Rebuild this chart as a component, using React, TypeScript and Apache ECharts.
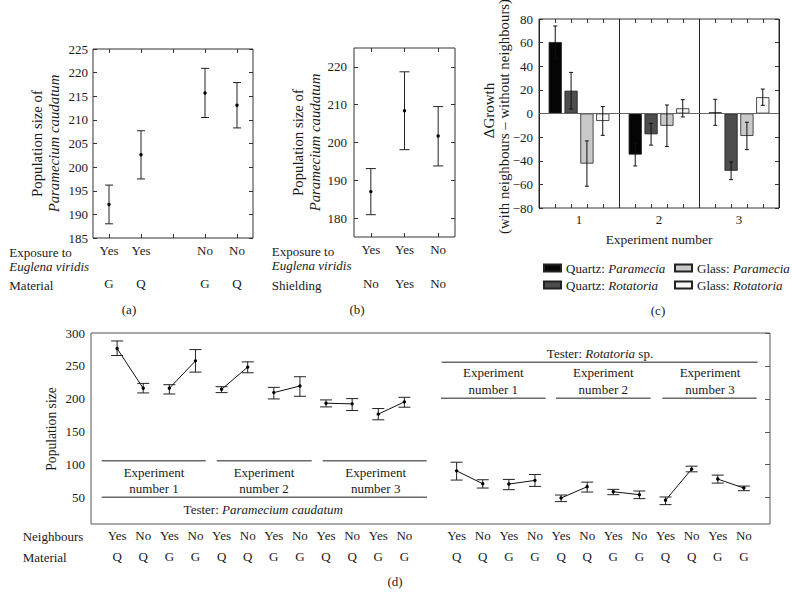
import React, { useEffect, useRef } from "react";
import * as echarts from "echarts";

const FONT = "Liberation Serif, DejaVu Serif, serif";
const INK = "#1a1a1a";
const BOX = "#333";

// ---------- Panel (a) ----------
const aExposure = ["Yes", "Yes", "", "No", "No"];
const aMaterial = ["G", "Q", "", "G", "Q"];
const aSlots = [0, 1, 3, 4];
const aMean = [192.1, 202.6, 215.7, 213.1];
const aLow = [188.0, 197.5, 210.5, 208.3];
const aHigh = [196.2, 207.7, 220.9, 217.9];

// ---------- Panel (b) ----------
const bExposure = ["Yes", "Yes", "No"];
const bShielding = ["No", "Yes", "No"];
const bMean = [187.0, 208.4, 201.7];
const bLow = [180.9, 198.1, 193.8];
const bHigh = [193.1, 218.7, 209.5];
const bTicks = [180, 190, 200, 210, 220];

// ---------- Panel (c) ----------
const cGroups = ["1", "2", "3"];
const cNames = ["Quartz: Paramecia", "Quartz: Rotatoria", "Glass: Paramecia", "Glass: Rotatoria"];
const cQuartzParamecia = [60.5, -34.8, 1.0];
const cQuartzRotatoria = [19.3, -17.6, -48.5];
const cGlassParamecia = [-42.4, -10.4, -19.0];
const cGlassRotatoria = [-6.3, 4.4, 13.8];
const cErrQuartzParamecia = [13.6, 9.6, 11.0];
const cErrQuartzRotatoria = [15.5, 9.2, 7.5];
const cErrGlassParamecia = [19.2, 17.6, 11.6];
const cErrGlassRotatoria = [12.2, 7.3, 6.9];
const cColors = ["#050505", "#4d4d4d", "#c9c9c9", "#f7f7f7"];

// ---------- Panel (d) ----------
const dPositions = [0, 1, 2, 3, 4, 5, 6, 7, 8, 9, 10, 11, 13, 14, 15, 16, 17, 18, 19, 20, 21, 22, 23, 24];
const dNeighbours = ["Yes", "No", "Yes", "No", "Yes", "No", "Yes", "No", "Yes", "No", "Yes", "No",
  "Yes", "No", "Yes", "No", "Yes", "No", "Yes", "No", "Yes", "No", "Yes", "No"];
const dMaterial = ["Q", "Q", "G", "G", "Q", "Q", "G", "G", "Q", "Q", "G", "G",
  "Q", "Q", "G", "G", "Q", "Q", "G", "G", "Q", "Q", "G", "G"];
const dMean = [276.4, 216.0, 216.0, 257.7, 214.5, 248.2, 209.5, 219.5, 193.4, 192.4, 176.8, 195.4,
  90.7, 71.1, 70.6, 76.2, 49.5, 66.6, 59.0, 54.5, 46.0, 93.3, 78.2, 64.6];
const dLow = [265.8, 209.0, 207.4, 240.6, 209.5, 239.6, 199.9, 203.9, 187.8, 182.3, 168.2, 187.3,
  76.7, 64.6, 62.1, 67.1, 44.0, 58.5, 54.5, 48.5, 39.4, 89.2, 72.1, 60.6];
const dHigh = [287.9, 223.5, 221.5, 274.8, 218.5, 256.2, 217.5, 233.6, 198.4, 200.4, 185.3, 202.4,
  103.8, 77.2, 77.7, 85.2, 54.0, 73.6, 62.6, 60.1, 51.0, 97.8, 84.2, 67.6];
const dYTicks = [50, 100, 150, 200, 250, 300];

const labelStyle = { fontFamily: FONT, fontSize: 13, color: INK };

function errorBar(capHalf: number, dot: boolean) {
  return (params: any, api: any) => {
    const x = api.value(0);
    const m = api.value(1);
    const lo = api.value(2);
    const hi = api.value(3);
    const pl = api.coord([x, lo]);
    const ph = api.coord([x, hi]);
    const pm = api.coord([x, m]);
    const st = { stroke: "#222", lineWidth: 1 };
    const children: any[] = [
      { type: "line", shape: { x1: pl[0], y1: pl[1], x2: ph[0], y2: ph[1] }, style: st },
      { type: "line", shape: { x1: pl[0] - capHalf, y1: pl[1], x2: pl[0] + capHalf, y2: pl[1] }, style: st },
      { type: "line", shape: { x1: ph[0] - capHalf, y1: ph[1], x2: ph[0] + capHalf, y2: ph[1] }, style: st },
    ];
    if (dot) children.push({ type: "circle", shape: { cx: pm[0], cy: pm[1], r: 1.7 }, style: { fill: "#000" } });
    return { type: "group", children };
  };
}

function txt(x: number, y: number, text: string, extra: any = {}) {
  return {
    type: "text",
    x,
    y,
    silent: true,
    rotation: extra.rotation || 0,
    style: {
      text,
      fontFamily: FONT,
      fontSize: extra.fontSize || 13,
      fontStyle: extra.italic ? "italic" : "normal",
      fill: INK,
      textAlign: extra.align || "left",
      align: extra.align || "left",
      textVerticalAlign: "middle",
      verticalAlign: "middle",
      rich: extra.rich,
      lineHeight: extra.lineHeight,
    },
  };
}

function ln(x1: number, y1: number, x2: number, y2: number) {
  return {
    type: "line",
    silent: true,
    shape: { x1, y1, x2, y2 },
    style: { stroke: "#6a6a6a", lineWidth: 1.4 },
  };
}

const richSerif = (size: number) => ({
  n: { fontFamily: FONT, fontSize: size, fill: INK, color: INK },
  i: { fontFamily: FONT, fontSize: size, fontStyle: "italic", fill: INK, color: INK },
});

export default function App() {
  const ref = useRef<HTMLDivElement>(null);

  useEffect(() => {
    document.body.style.margin = "0";
    if (!ref.current) return;
    const chart = echarts.init(ref.current, undefined, { renderer: "svg" });

    const gridBase = { show: true, borderColor: BOX, borderWidth: 1, backgroundColor: "transparent" };
    const noLine = { show: false, onZero: false };

    const cTickPos: number[] = [];
    cGroups.forEach((_, g) => {
      for (let k = 1; k <= cNames.length; k++) cTickPos.push(+(g + k * 0.2).toFixed(2));
    });

    const cValues = [cQuartzParamecia, cQuartzRotatoria, cGlassParamecia, cGlassRotatoria];
    const cErrs = [cErrQuartzParamecia, cErrQuartzRotatoria, cErrGlassParamecia, cErrGlassRotatoria];
    const cErrData: number[][] = [];
    cValues.forEach((arr, s) => arr.forEach((v, g) => cErrData.push([g, v, cErrs[s][g], s])));

    const BAR_W = 0.165;
    const BAR_GAP = 0.2;

    const option: any = {
      animation: false,
      textStyle: { fontFamily: FONT },
      grid: [
        { ...gridBase, left: 93, top: 49, width: 160, height: 189 },
        { ...gridBase, left: 354, top: 48, width: 101, height: 189 },
        { ...gridBase, left: 539, top: 19, width: 240, height: 189 },
        { ...gridBase, left: 91, top: 333, width: 679, height: 191, borderColor: "#555" },
      ],
      xAxis: [
        // (a)
        {
          type: "category", gridIndex: 0, position: "bottom", data: aExposure.map((_, i) => "a" + i),
          axisLine: noLine,
          axisTick: { show: true, inside: true, alignWithLabel: true, interval: 0, length: 4, lineStyle: { color: BOX } },
          axisLabel: { ...labelStyle, interval: 0, margin: 6, formatter: (_v: any, i: number) => aExposure[i] },
        },
        {
          type: "category", gridIndex: 0, position: "bottom", offset: 33, data: aMaterial.map((_, i) => "a" + i),
          axisLine: noLine, axisTick: { show: false },
          axisLabel: { ...labelStyle, interval: 0, margin: 6, formatter: (_v: any, i: number) => aMaterial[i] },
        },
        {
          type: "category", gridIndex: 0, position: "top", data: aExposure.map((_, i) => "a" + i),
          axisLine: noLine, axisLabel: { show: false },
          axisTick: { show: true, inside: true, alignWithLabel: true, interval: 0, length: 4, lineStyle: { color: BOX } },
        },
        // (b)
        {
          type: "category", gridIndex: 1, position: "bottom", data: bExposure.map((_, i) => "b" + i),
          axisLine: noLine,
          axisTick: { show: true, inside: true, alignWithLabel: true, interval: 0, length: 4, lineStyle: { color: BOX } },
          axisLabel: { ...labelStyle, interval: 0, margin: 6, formatter: (_v: any, i: number) => bExposure[i] },
        },
        {
          type: "category", gridIndex: 1, position: "bottom", offset: 34, data: bShielding.map((_, i) => "b" + i),
          axisLine: noLine, axisTick: { show: false },
          axisLabel: { ...labelStyle, interval: 0, margin: 6, formatter: (_v: any, i: number) => bShielding[i] },
        },
        {
          type: "category", gridIndex: 1, position: "top", data: bExposure.map((_, i) => "b" + i),
          axisLine: noLine, axisLabel: { show: false },
          axisTick: { show: true, inside: true, alignWithLabel: true, interval: 0, length: 4, lineStyle: { color: BOX } },
        },
        // (c)
        {
          type: "category", gridIndex: 2, position: "bottom", data: cGroups,
          axisLine: noLine, axisTick: { show: false },
          splitLine: { show: true, interval: 0, lineStyle: { color: "#222", width: 1 } },
          axisLabel: { ...labelStyle, interval: 0, margin: 5 },
        },
        {
          type: "value", gridIndex: 2, position: "bottom", min: 0, max: 3,
          axisLine: noLine, splitLine: { show: false }, axisLabel: { show: false },
          axisTick: { show: true, inside: true, length: 4, customValues: cTickPos, lineStyle: { color: BOX } },
        },
        {
          type: "value", gridIndex: 2, position: "top", min: 0, max: 3,
          axisLine: noLine, splitLine: { show: false }, axisLabel: { show: false },
          axisTick: { show: true, inside: true, length: 4, customValues: cTickPos, lineStyle: { color: BOX } },
        },
        // (d)
        {
          type: "value", gridIndex: 3, position: "bottom", min: -1, max: 25,
          axisLine: noLine, splitLine: { show: false }, axisTick: { show: false },
          axisLabel: {
            ...labelStyle, margin: 5, customValues: dPositions,
            formatter: (v: number) => { const k = dPositions.indexOf(v); return k >= 0 ? dNeighbours[k] : ""; },
          },
        },
        {
          type: "value", gridIndex: 3, position: "bottom", offset: 21, min: -1, max: 25,
          axisLine: noLine, splitLine: { show: false }, axisTick: { show: false },
          axisLabel: {
            ...labelStyle, margin: 5, customValues: dPositions,
            formatter: (v: number) => { const k = dPositions.indexOf(v); return k >= 0 ? dMaterial[k] : ""; },
          },
        },
      ],
      yAxis: [
        // (a)
        {
          type: "value", gridIndex: 0, position: "left", min: 185, max: 225, interval: 5,
          axisLine: noLine, splitLine: { show: false },
          axisTick: { show: true, inside: true, length: 4, lineStyle: { color: BOX } },
          axisLabel: { ...labelStyle, margin: 5 },
        },
        {
          type: "value", gridIndex: 0, position: "right", min: 185, max: 225, interval: 5,
          axisLine: noLine, splitLine: { show: false }, axisLabel: { show: false },
          axisTick: { show: true, inside: true, length: 4, lineStyle: { color: BOX } },
        },
        // (b)
        {
          type: "value", gridIndex: 1, position: "left", min: 175, max: 225,
          axisLine: noLine, splitLine: { show: false },
          axisTick: { show: true, inside: true, length: 4, customValues: bTicks, lineStyle: { color: BOX } },
          axisLabel: { ...labelStyle, margin: 7, customValues: bTicks },
        },
        {
          type: "value", gridIndex: 1, position: "right", min: 175, max: 225,
          axisLine: noLine, splitLine: { show: false }, axisLabel: { show: false },
          axisTick: { show: true, inside: true, length: 4, customValues: bTicks, lineStyle: { color: BOX } },
        },
        // (c)
        {
          type: "value", gridIndex: 2, position: "left", min: -80, max: 80, interval: 20,
          axisLine: noLine, splitLine: { show: false },
          axisTick: { show: true, inside: true, length: 4, lineStyle: { color: BOX } },
          axisLabel: { ...labelStyle, margin: 6, formatter: (v: number) => (v < 0 ? "\u2212" + Math.abs(v) : String(v)) },
        },
        {
          type: "value", gridIndex: 2, position: "right", min: -80, max: 80, interval: 20,
          axisLine: noLine, splitLine: { show: false }, axisLabel: { show: false },
          axisTick: { show: true, inside: true, length: 4, lineStyle: { color: BOX } },
        },
        // (d)
        {
          type: "value", gridIndex: 3, position: "left", min: 10, max: 300,
          axisLine: noLine, splitLine: { show: false }, axisTick: { show: false },
          axisLabel: { ...labelStyle, margin: 6, customValues: dYTicks },
        },
        {
          type: "value", gridIndex: 3, position: "right", min: 10, max: 300,
          axisLine: noLine, splitLine: { show: false }, axisLabel: { show: false },
          axisTick: { show: true, inside: true, length: 5, customValues: dYTicks, lineStyle: { color: "#555" } },
        },
      ],
      legend: [0, 1].map((col) => ({
        orient: "vertical",
        left: col === 0 ? 543 : 674,
        top: 261,
        padding: 0,
        itemWidth: 17,
        itemHeight: 7,
        itemGap: 3,
        selectedMode: false,
        icon: "rect",
        data: col === 0 ? [cNames[0], cNames[1]] : [cNames[2], cNames[3]],
        formatter: (name: string) => {
          const [pre, sp] = name.split(": ");
          return `{n|${pre}: }{i|${sp}}`;
        },
        textStyle: { ...labelStyle, lineHeight: 14, rich: richSerif(13) },
      })),
      series: [
        // (a)
        {
          type: "custom", xAxisIndex: 0, yAxisIndex: 0, z: 5,
          renderItem: errorBar(4, true),
          data: aSlots.map((s, i) => [s, aMean[i], aLow[i], aHigh[i]]),
        },
        // (b)
        {
          type: "custom", xAxisIndex: 3, yAxisIndex: 2, z: 5,
          renderItem: errorBar(5, true),
          data: bMean.map((m, i) => [i, m, bLow[i], bHigh[i]]),
        },
        // (c) bars
        ...cValues.map((vals, s) => ({
          type: "bar", name: cNames[s], xAxisIndex: 6, yAxisIndex: 4,
          data: vals, barWidth: BAR_W * 100 + "%", barGap: BAR_GAP * 100 + "%",
          itemStyle: { color: cColors[s], borderColor: "#222", borderWidth: 0.8 },
          markLine: s === 0 ? {
            silent: true, symbol: "none", label: { show: false },
            lineStyle: { color: "#666", width: 1, type: "solid" },
            data: [{ yAxis: 0 }],
          } : undefined,
        })),
        // (c) error bars
        {
          type: "custom", xAxisIndex: 6, yAxisIndex: 4, z: 6,
          renderItem: (params: any, api: any) => {
            const g = api.value(0);
            const v = api.value(1);
            const e = api.value(2);
            const s = api.value(3);
            const band = api.size([1, 0])[0];
            const off = (s - 1.5) * band * BAR_W * (1 + BAR_GAP);
            const p1 = api.coord([g, v + e]);
            const p2 = api.coord([g, v - e]);
            const x = p1[0] + off;
            const st = { stroke: "#111", lineWidth: 1 };
            return {
              type: "group",
              children: [
                { type: "line", shape: { x1: x, y1: p1[1], x2: x, y2: p2[1] }, style: st },
                { type: "line", shape: { x1: x - 2, y1: p1[1], x2: x + 2, y2: p1[1] }, style: st },
                { type: "line", shape: { x1: x - 2, y1: p2[1], x2: x + 2, y2: p2[1] }, style: st },
              ],
            };
          },
          data: cErrData,
        },
        // (d) connecting lines
        {
          type: "custom", xAxisIndex: 9, yAxisIndex: 6, z: 4,
          renderItem: (params: any, api: any) => {
            const a = api.coord([api.value(0), api.value(1)]);
            const b = api.coord([api.value(2), api.value(3)]);
            return { type: "line", shape: { x1: a[0], y1: a[1], x2: b[0], y2: b[1] }, style: { stroke: "#111", lineWidth: 1 } };
          },
          data: dPositions.filter((_, i) => i % 2 === 0).map((_, k) => [
            dPositions[2 * k], dMean[2 * k], dPositions[2 * k + 1], dMean[2 * k + 1],
          ]),
        },
        // (d) error bars
        {
          type: "custom", xAxisIndex: 9, yAxisIndex: 6, z: 5,
          renderItem: errorBar(6, true),
          data: dPositions.map((p, i) => [p, dMean[i], dLow[i], dHigh[i]]),
        },
      ],
      graphic: [
        // (a)
        txt(45.5, 143.5, "{n|Population size of}\n{i|Paramecium caudatum}", {
          rotation: Math.PI / 2, align: "center", rich: richSerif(14.8), lineHeight: 17,
        }),
        txt(9.3, 252, "Exposure to"),
        txt(9.3, 266, "Euglena viridis", { italic: true }),
        txt(9.3, 285, "Material"),
        txt(129, 309, "(a)", { align: "center" }),
        // (b)
        txt(306, 142.5, "{n|Population size of}\n{i|Paramecium caudatum}", {
          rotation: Math.PI / 2, align: "center", rich: richSerif(14.8), lineHeight: 17,
        }),
        txt(271.7, 251, "Exposure to"),
        txt(271.7, 265, "Euglena viridis", { italic: true }),
        txt(271.7, 285, "Shielding"),
        txt(357, 309, "(b)", { align: "center" }),
        // (c)
        txt(489, 110.5, "\u0394Growth", { rotation: Math.PI / 2, align: "center", fontSize: 15 }),
        txt(504, 116.5, "(with neighbours \u2013 without neighbours)", {
          rotation: Math.PI / 2, align: "center", fontSize: 14.8,
        }),
        txt(659, 239, "Experiment number", { align: "center", fontSize: 13.4 }),
        txt(658, 310, "(c)", { align: "center" }),
        // (d)
        txt(51.7, 429, "Population size", { rotation: Math.PI / 2, align: "center", fontSize: 13.6 }),
        txt(22.7, 536, "Neighbours"),
        txt(22.7, 557, "Material"),
        txt(395, 581, "(d)", { align: "center" }),
        // (d) Paramecium annotations
        ln(101.7, 460.7, 205.7, 460.7),
        ln(216.7, 460.7, 311.7, 460.7),
        ln(322.7, 460.7, 426.7, 460.7),
        txt(154, 472.7, "Experiment", { align: "center" }),
        txt(154, 488.3, "number 1", { align: "center" }),
        txt(264, 472.7, "Experiment", { align: "center" }),
        txt(264, 488.3, "number 2", { align: "center" }),
        txt(375.7, 472.7, "Experiment", { align: "center" }),
        txt(375.7, 488.3, "number 3", { align: "center" }),
        ln(101.7, 497.3, 427, 497.3),
        txt(263.3, 509.3, "{n|Tester: }{i|Paramecium caudatum}", { align: "center", rich: richSerif(13) }),
        // (d) Rotatoria annotations
        txt(600, 353.3, "{n|Tester: }{i|Rotatoria}{n| sp.}", { align: "center", rich: richSerif(13) }),
        ln(441.7, 362.3, 757.7, 362.3),
        txt(493.3, 372.3, "Experiment", { align: "center" }),
        txt(493.3, 389, "number 1", { align: "center" }),
        txt(603.3, 372.3, "Experiment", { align: "center" }),
        txt(603.3, 389, "number 2", { align: "center" }),
        txt(710, 372.3, "Experiment", { align: "center" }),
        txt(710, 389, "number 3", { align: "center" }),
        ln(441, 398.3, 545.7, 398.3),
        ln(556, 398.3, 650.7, 398.3),
        ln(662.3, 398.3, 756.7, 398.3),
      ],
    };

    chart.setOption(option);
    return () => chart.dispose();
  }, []);

  return <div ref={ref} style={{ width: 792, height: 596 }} />;
}
